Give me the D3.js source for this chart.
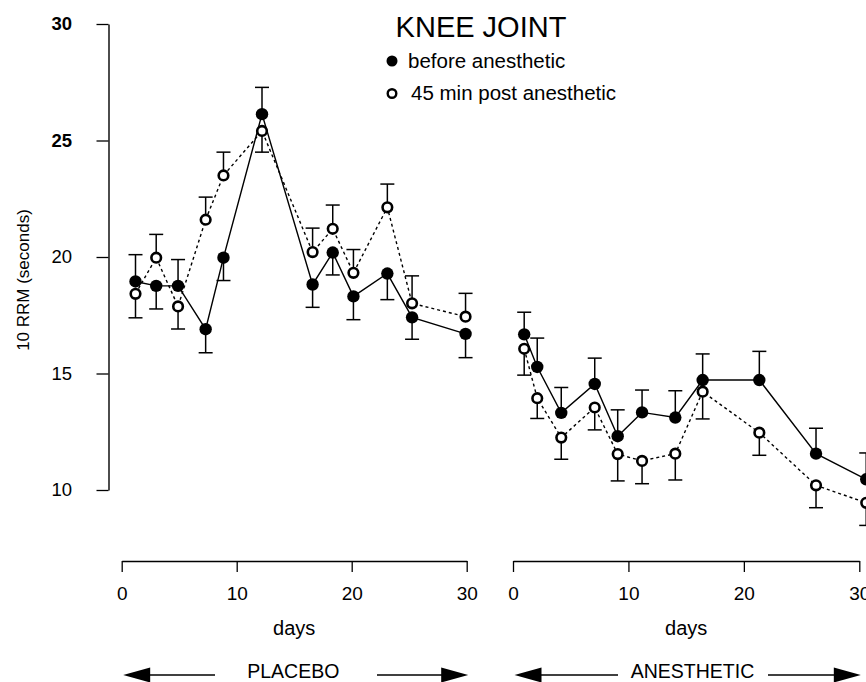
<!DOCTYPE html>
<html>
<head>
<meta charset="utf-8">
<script src="https://cdn.jsdelivr.net/npm/d3@7"></script>
<style>
  html, body { margin: 0; padding: 0; background: #fff; }
  svg { display: block; font-family: "Liberation Sans", Arial, Helvetica, sans-serif; }
</style>
</head>
<body>
<svg id="chart" width="866" height="682"></svg>
<script>
// ---- data: 10 RRM time (seconds), knee joint ----
const yTicks = [10, 15, 20, 25, 30];
const xTicks = [0, 10, 20, 30];

// placebo phase
const placeboDays       = [1.2, 3.0, 4.9, 7.3, 8.85, 12.2, 16.6, 18.35, 20.15, 23.1, 25.25, 29.9];
const placeboBefore     = [18.95, 18.76, 18.76, 16.9, 19.97, 26.13, 18.82, 20.19, 18.31, 19.29, 17.41, 16.7];
const placeboBeforeErr  = [1.15, 0.99, 1.13, 1.01, 0.98, 1.15, 0.98, 0.96, 1.0, 1.12, 0.94, 1.02];
const placeboPost       = [18.42, 19.97, 17.88, 21.6, 23.5, 25.41, 20.21, 21.21, 19.32, 22.13, 18.01, 17.44];
const placeboPostErr    = [1.03, 1.0, 0.97, 0.97, 1.0, 0.91, 1.03, 1.02, 1.0, 1.0, 1.18, 1.0];

// anesthetic phase
const anestheticDays      = [0.97, 2.1, 4.18, 7.08, 9.07, 11.18, 14.06, 16.43, 21.34, 26.25, 30.6];
const anestheticBefore    = [16.68, 15.28, 13.31, 14.55, 12.31, 13.33, 13.11, 14.72, 14.72, 11.56, 10.46];
const anestheticBeforeErr = [0.95, 1.24, 1.09, 1.11, 1.13, 0.96, 1.15, 1.12, 1.23, 1.09, 1.13];
const anestheticPost      = [16.06, 13.94, 12.25, 13.54, 11.54, 11.25, 11.56, 14.22, 12.46, 10.2, 9.45];
const anestheticPostErr   = [1.13, 0.87, 0.93, 0.96, 1.15, 0.98, 1.13, 1.17, 0.97, 0.96, 0.97];

const legendLabels = ["before anesthetic", "45 min post anesthetic"];

// ---- layout ----
const svg = d3.select("#chart");
svg.append("rect").attr("width", 866).attr("height", 682).attr("fill", "#fff");

const y = d3.scaleLinear().domain([10, 30]).range([490, 24]);
const xPlacebo = d3.scaleLinear().domain([0, 30]).range([121.7, 466.7]);
const xAnesthetic = d3.scaleLinear().domain([0, 30]).range([513, 859.3]);
const axisY = 561;

const panels = [
  { label: "PLACEBO", x: xPlacebo, days: placeboDays,
    before: placeboBefore, beforeErr: placeboBeforeErr,
    post: placeboPost, postErr: placeboPostErr },
  { label: "ANESTHETIC", x: xAnesthetic, days: anestheticDays,
    before: anestheticBefore, beforeErr: anestheticBeforeErr,
    post: anestheticPost, postErr: anestheticPostErr }
];

// ---- y axis ----
const yAxisG = svg.append("g")
  .attr("transform", "translate(108.5,0)")
  .call(d3.axisLeft(y).tickValues(yTicks).tickSize(12).tickSizeOuter(0).tickPadding(24.5).tickFormat(d3.format("d")));
yAxisG.select(".domain").attr("stroke", "#000").attr("stroke-width", 1.4);
yAxisG.selectAll(".tick line").attr("stroke", "#000").attr("stroke-width", 1.3);
yAxisG.selectAll(".tick text")
  .attr("fill", "#000")
  .style("font-size", "18.5px")
  .style("font-family", "'Liberation Sans', Arial, sans-serif")
  .style("font-weight", d => d >= 25 ? "bold" : "normal");

svg.append("text")
  .attr("transform", "translate(28.5,280) rotate(-90)")
  .attr("text-anchor", "middle")
  .style("font-size", "17px")
  .attr("fill", "#000")
  .text("10 RRM (seconds)");

// ---- title and legend ----
svg.append("text")
  .attr("x", 481).attr("y", 37)
  .attr("text-anchor", "middle")
  .style("font-size", "29px")
  .attr("fill", "#000")
  .text("KNEE JOINT");

svg.append("circle").attr("cx", 392).attr("cy", 61).attr("r", 5.5).attr("fill", "#000");
svg.append("circle").attr("cx", 392).attr("cy", 93.5).attr("r", 4.3)
  .attr("fill", "#fff").attr("stroke", "#000").attr("stroke-width", 2.4);
svg.append("text").attr("x", 408).attr("y", 67.5).style("font-size", "20.5px").attr("fill", "#000").text(legendLabels[0]);
svg.append("text").attr("x", 411).attr("y", 100).style("font-size", "20.5px").attr("fill", "#000").text(legendLabels[1]);

// ---- panels ----
const arrowLayout = {
  PLACEBO:    { leftEnd: 215, rightStart: 377, textX: 293.3 },
  ANESTHETIC: { leftEnd: 618, rightStart: 768, textX: 692.5 }
};

panels.forEach(p => {
  const x = p.x;

  // x axis
  const xg = svg.append("g")
    .attr("transform", `translate(0,${axisY})`)
    .call(d3.axisBottom(x).tickValues(xTicks).tickSize(11).tickSizeOuter(0).tickPadding(14.5));
  xg.select(".domain").attr("stroke", "#000").attr("stroke-width", 1.3);
  xg.selectAll(".tick line").attr("stroke", "#000").attr("stroke-width", 1.3);
  xg.selectAll(".tick text")
    .attr("fill", "#000")
    .style("font-size", "19px")
    .style("font-family", "'Liberation Sans', Arial, sans-serif");

  const [r0, r1] = x.range();
  svg.append("text")
    .attr("x", (r0 + r1) / 2).attr("y", 635)
    .attr("text-anchor", "middle")
    .style("font-size", "20px")
    .attr("fill", "#000")
    .text("days");

  // treatment label with arrows
  const al = arrowLayout[p.label];
  const ay = 675;
  const tipL = r0 + 1.5, tipR = r1 + 1.5;
  svg.append("text")
    .attr("x", al.textX).attr("y", 678)
    .attr("text-anchor", "middle")
    .style("font-size", "19.5px")
    .attr("fill", "#000")
    .text(p.label);
  svg.append("line").attr("x1", tipL + 20).attr("x2", al.leftEnd).attr("y1", ay).attr("y2", ay)
    .attr("stroke", "#000").attr("stroke-width", 1.4);
  svg.append("line").attr("x1", al.rightStart).attr("x2", tipR - 20).attr("y1", ay).attr("y2", ay)
    .attr("stroke", "#000").attr("stroke-width", 1.4);
  svg.append("path")
    .attr("d", `M${tipL},${ay} L${tipL + 27},${ay - 7.5} L${tipL + 27},${ay + 7.5} Z`)
    .attr("fill", "#000");
  svg.append("path")
    .attr("d", `M${tipR},${ay} L${tipR - 27},${ay - 7.5} L${tipR - 27},${ay + 7.5} Z`)
    .attr("fill", "#000");

  // series
  const before = p.days.map((d, i) => ({ day: d, v: p.before[i], err: p.beforeErr[i], other: p.post[i] }));
  const post   = p.days.map((d, i) => ({ day: d, v: p.post[i],   err: p.postErr[i],   other: p.before[i] }));

  const line = d3.line().x(d => x(d.day)).y(d => y(d.v));

  svg.append("path").datum(before).attr("d", line)
    .attr("fill", "none").attr("stroke", "#000").attr("stroke-width", 1.4);
  svg.append("path").datum(post).attr("d", line)
    .attr("fill", "none").attr("stroke", "#000").attr("stroke-width", 1.4)
    .attr("stroke-dasharray", "3,3");

  // error bars point away from the other series
  [before, post].forEach(series => {
    const g = svg.append("g").attr("stroke", "#000").attr("stroke-width", 1.5);
    series.forEach(d => {
      const end = d.v >= d.other ? d.v + d.err : d.v - d.err;
      const cx = x(d.day);
      g.append("line").attr("x1", cx).attr("x2", cx).attr("y1", y(d.v)).attr("y2", y(end));
      g.append("line").attr("x1", cx - 7).attr("x2", cx + 7).attr("y1", y(end)).attr("y2", y(end));
    });
  });

  svg.append("g").selectAll("circle").data(before).join("circle")
    .attr("cx", d => x(d.day)).attr("cy", d => y(d.v)).attr("r", 6.2)
    .attr("fill", "#000");
  svg.append("g").selectAll("circle").data(post).join("circle")
    .attr("cx", d => x(d.day)).attr("cy", d => y(d.v)).attr("r", 4.8)
    .attr("fill", "#fff").attr("stroke", "#000").attr("stroke-width", 2.6);
});
</script>
</body>
</html>
